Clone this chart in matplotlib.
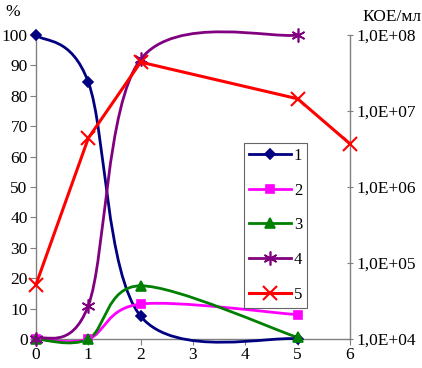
import matplotlib.pyplot as plt
import numpy as np
from matplotlib.path import Path
from matplotlib.patches import PathPatch
from matplotlib.lines import Line2D
from matplotlib.ticker import FixedLocator, FuncFormatter, NullLocator

plt.rcParams['font.family'] = 'serif'
plt.rcParams['font.serif'] = ['Liberation Serif', 'Times New Roman', 'Nimbus Roman', 'DejaVu Serif']

# data
days = [0, 1, 2, 5]
s1 = [100, 84.5, 7.5, 0]
s2 = [0, 0, 11.5, 8]
s3 = [0, 0, 17.5, 0.5]
s4 = [0, 11, 92, 100]
days5 = [0, 1, 2, 5, 6]
s5 = [5.2e4, 4.4e6, 4.4e7, 1.45e7, 3.7e6]

series = [
    ('1', s1, '#000080', 'D', 5),
    ('2', s2, '#FF00FF', 's', 6),
    ('3', s3, '#008000', '^', 7),
    ('4', s4, '#800080', (6, 2, 0), 10),
]


def smooth_path(x, y):
    """Excel-like smoothed line as cubic Bezier segments."""
    x = np.asarray(x, float)
    y = np.asarray(y, float)
    n = len(x)
    verts = [(x[0], y[0])]
    codes = [Path.MOVETO]
    for i in range(n - 1):
        i0 = max(i - 1, 0)
        i3 = min(i + 2, n - 1)
        c1 = (x[i] + (x[i + 1] - x[i0]) / 6, y[i] + (y[i + 1] - y[i0]) / 6)
        c2 = (x[i + 1] - (x[i3] - x[i]) / 6, y[i + 1] - (y[i3] - y[i]) / 6)
        verts += [c1, c2, (x[i + 1], y[i + 1])]
        codes += [Path.CURVE4] * 3
    return Path(verts, codes)


fig = plt.figure(figsize=(4.22, 3.68), dpi=100)
ax = fig.add_axes([0.0853, 0.0788, 0.744, 0.826])
ax2 = ax.twinx()

handles = []
for name, vals, col, mk, ms in series:
    patch = PathPatch(smooth_path(days, vals), fill=False, edgecolor=col,
                      linewidth=2, clip_on=False, zorder=3)
    ax.add_patch(patch)
    ax.plot(days, vals, linestyle='none', marker=mk, color=col, markersize=ms,
            markeredgewidth=1.2, clip_on=False, zorder=4)
    handles.append(Line2D([], [], color=col, linewidth=2, marker=mk,
                          markersize=ms, markeredgewidth=1.2, label=name))

ax2.plot(days5, s5, color='#FF0000', linewidth=2.2, marker='x', markersize=10,
         markeredgewidth=1.5, clip_on=False, zorder=3)
handles.append(Line2D([], [], color='#FF0000', linewidth=2.2, marker='x',
                      markersize=10, markeredgewidth=1.5, label='5'))

ax.set_xlim(0, 6)
ax.set_ylim(0, 100)
ax.set_xticks(range(0, 7))
ax.set_yticks(range(0, 101, 10))
ax2.set_yscale('log')
ax2.set_ylim(1e4, 1e8)
ax2.yaxis.set_major_locator(FixedLocator([1e4, 1e5, 1e6, 1e7, 1e8]))
ax2.yaxis.set_minor_locator(NullLocator())
ax2.yaxis.set_major_formatter(FuncFormatter(lambda v, p: '1,0E+%02d' % round(np.log10(v))))

for a in (ax, ax2):
    a.spines['top'].set_visible(False)
    for s in a.spines.values():
        s.set_color('#808080')
        s.set_linewidth(1)
ax.spines['right'].set_visible(False)
ax2.spines['left'].set_visible(False)
ax2.spines['bottom'].set_visible(False)

ax.tick_params(axis='both', labelsize=12.5, length=4, color='#808080', pad=2)
ax2.tick_params(axis='y', labelsize=12.5, length=4, direction='inout', color='#808080', pad=3)

fig.text(0.012, 0.99, '%', fontsize=12.5, va='top', ha='left')
fig.text(0.998, 0.975, 'КОЕ/мл', fontsize=12.5, va='top', ha='right')

leg = ax2.legend(handles=handles, loc='upper left', bbox_to_anchor=(0.662, 0.645),
                 fontsize=12, frameon=True, fancybox=False, handlelength=2.5,
                 labelspacing=1.12, borderpad=0.3, handletextpad=0.2,
                 borderaxespad=0)
leg.get_frame().set_edgecolor('#404040')
leg.get_frame().set_linewidth(0.8)

fig.savefig('out.png', dpi=100)
